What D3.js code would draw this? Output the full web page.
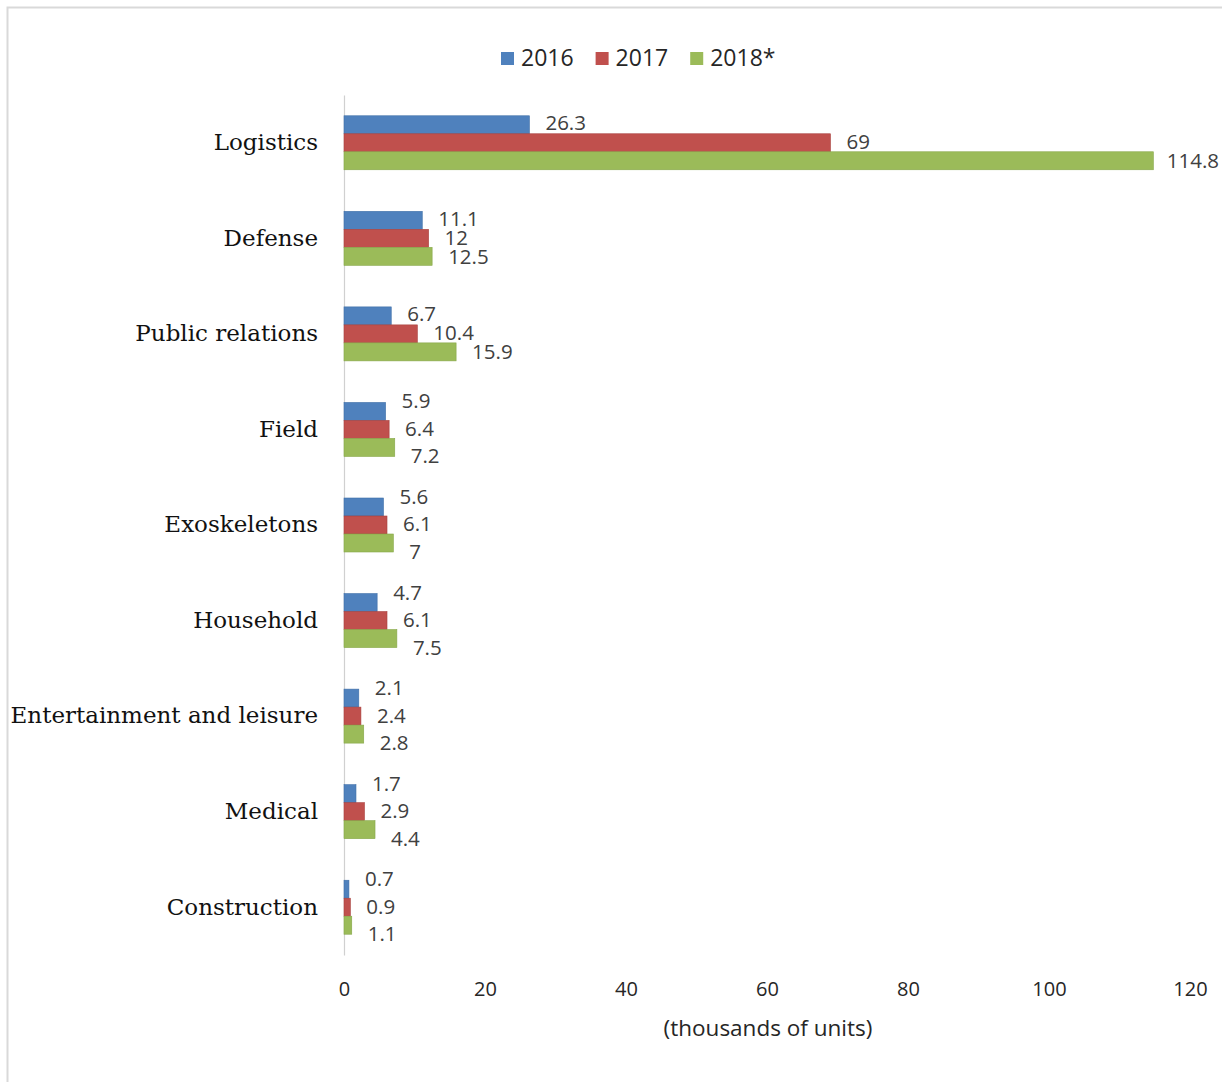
<!DOCTYPE html>
<html>
<head>
<meta charset="utf-8">
<script src="https://cdn.jsdelivr.net/npm/d3@7"></script>
<style>
  body { margin: 0; background: #fff; }
  svg { display: block; }
</style>
</head>
<body>
<div id="chart"></div>
<script>
// chart data (thousands of units)
const categories = ["Logistics", "Defense", "Public relations", "Field", "Exoskeletons",
  "Household", "Entertainment and leisure", "Medical", "Construction"];
const series = ["2016", "2017", "2018*"];
const values2016 = [26.3, 11.1, 6.7, 5.9, 5.6, 4.7, 2.1, 1.7, 0.7];
const values2017 = [69, 12, 10.4, 6.4, 6.1, 6.1, 2.4, 2.9, 0.9];
const values2018 = [114.8, 12.5, 15.9, 7.2, 7, 7.5, 2.8, 4.4, 1.1];
const xTicks = [0, 20, 40, 60, 80, 100, 120];

const colors = ["#4f81bd", "#c0504d", "#9bbb59"];
const strokes = ["#3f6fa8", "#a8403d", "#86a748"];

const width = 1222;
const height = 1082;
const plot = {left: 344, right: 1190, top: 95, bottom: 955};
const sans = "'Open Sans', 'Noto Sans', sans-serif";

const svg = d3.select("#chart")
  .append("svg")
  .attr("width", width)
  .attr("height", height);

// outer frame (only top/left edges visible in the picture)
svg.append("rect")
  .attr("x", 7.5).attr("y", 7.5)
  .attr("width", width + 20).attr("height", height + 20)
  .attr("fill", "none")
  .attr("stroke", "#d9d9d9")
  .attr("stroke-width", 2);

// scales
const xScale = d3.scaleLinear()
  .domain([0, 120])
  .range([plot.left, plot.right]);

const yScale = d3.scaleBand()
  .domain(categories)
  .range([plot.top, plot.bottom])
  .paddingInner(0.435)
  .paddingOuter(0.2175);

const ySub = d3.scaleBand()
  .domain(d3.range(series.length))
  .range([0, yScale.bandwidth()]);

// x axis (tick labels only)
const xAxis = svg.append("g")
  .attr("transform", `translate(0,${plot.bottom + 20})`)
  .call(d3.axisBottom(xScale).tickValues(xTicks).tickSize(0).tickPadding(7));
xAxis.select(".domain").remove();
xAxis.selectAll("text")
  .attr("font-family", sans)
  .attr("font-size", "20px")
  .attr("fill", "#262626");

svg.append("text")
  .attr("x", 768)
  .attr("y", 1030)
  .attr("text-anchor", "middle")
  .attr("dominant-baseline", "middle")
  .attr("font-family", sans)
  .attr("font-size", "22.5px")
  .attr("fill", "#262626")
  .text("(thousands of units)");

// y axis with category names
const yAxis = svg.append("g")
  .attr("transform", `translate(${plot.left},0)`)
  .call(d3.axisLeft(yScale).tickSize(0).tickSizeOuter(0).tickPadding(26));
yAxis.select(".domain").attr("stroke", "#d0d0d0").attr("stroke-width", 1.2);
yAxis.selectAll("text")
  .attr("font-family", "'DejaVu Serif', serif")
  .attr("font-size", "23px")
  .attr("fill", "#111");

// bars
const rows = categories.map((c, i) => ({
  name: c,
  vals: [values2016[i], values2017[i], values2018[i]]
}));

const groups = svg.selectAll(".group")
  .data(rows)
  .enter()
  .append("g")
  .attr("class", "group")
  .attr("transform", d => `translate(0,${yScale(d.name)})`);

groups.selectAll("rect")
  .data(d => d.vals)
  .enter()
  .append("rect")
  .attr("x", xScale(0))
  .attr("y", (d, i) => ySub(i))
  .attr("width", d => xScale(d) - xScale(0))
  .attr("height", ySub.bandwidth())
  .attr("fill", (d, i) => colors[i])
  .attr("stroke", (d, i) => strokes[i])
  .attr("stroke-width", 0.6);

// data labels, spread apart when bars are short (like Excel does)
groups.each(function(row) {
  const g = d3.select(this);
  const mid = ySub(1) + ySub.bandwidth() / 2 + 1;
  const spread = d3.max(row.vals) < 10 ? 27.5 : 19;
  row.vals.forEach((v, i) => {
    const t = g.append("text")
      .attr("y", mid + (i - 1) * spread)
      .attr("dominant-baseline", "middle")
      .attr("font-family", sans)
      .attr("font-size", "20.5px")
      .attr("fill", "#404040")
      .text(v);
    const w = t.node().getComputedTextLength();
    const x = Math.min(xScale(v) + 16, width - 3 - w);
    t.attr("x", x);
  });
});

// legend
const legend = svg.append("g").attr("transform", "translate(501,59)");
let lx = 0;
series.forEach((s, i) => {
  legend.append("rect")
    .attr("x", lx).attr("y", -7)
    .attr("width", 13).attr("height", 13)
    .attr("fill", colors[i]);
  const t = legend.append("text")
    .attr("x", lx + 20)
    .attr("y", 1)
    .attr("dominant-baseline", "middle")
    .attr("font-family", sans)
    .attr("font-size", "23px")
    .attr("fill", "#262626")
    .text(s);
  lx += 20 + t.node().getComputedTextLength() + 22;
});
</script>
</body>
</html>
